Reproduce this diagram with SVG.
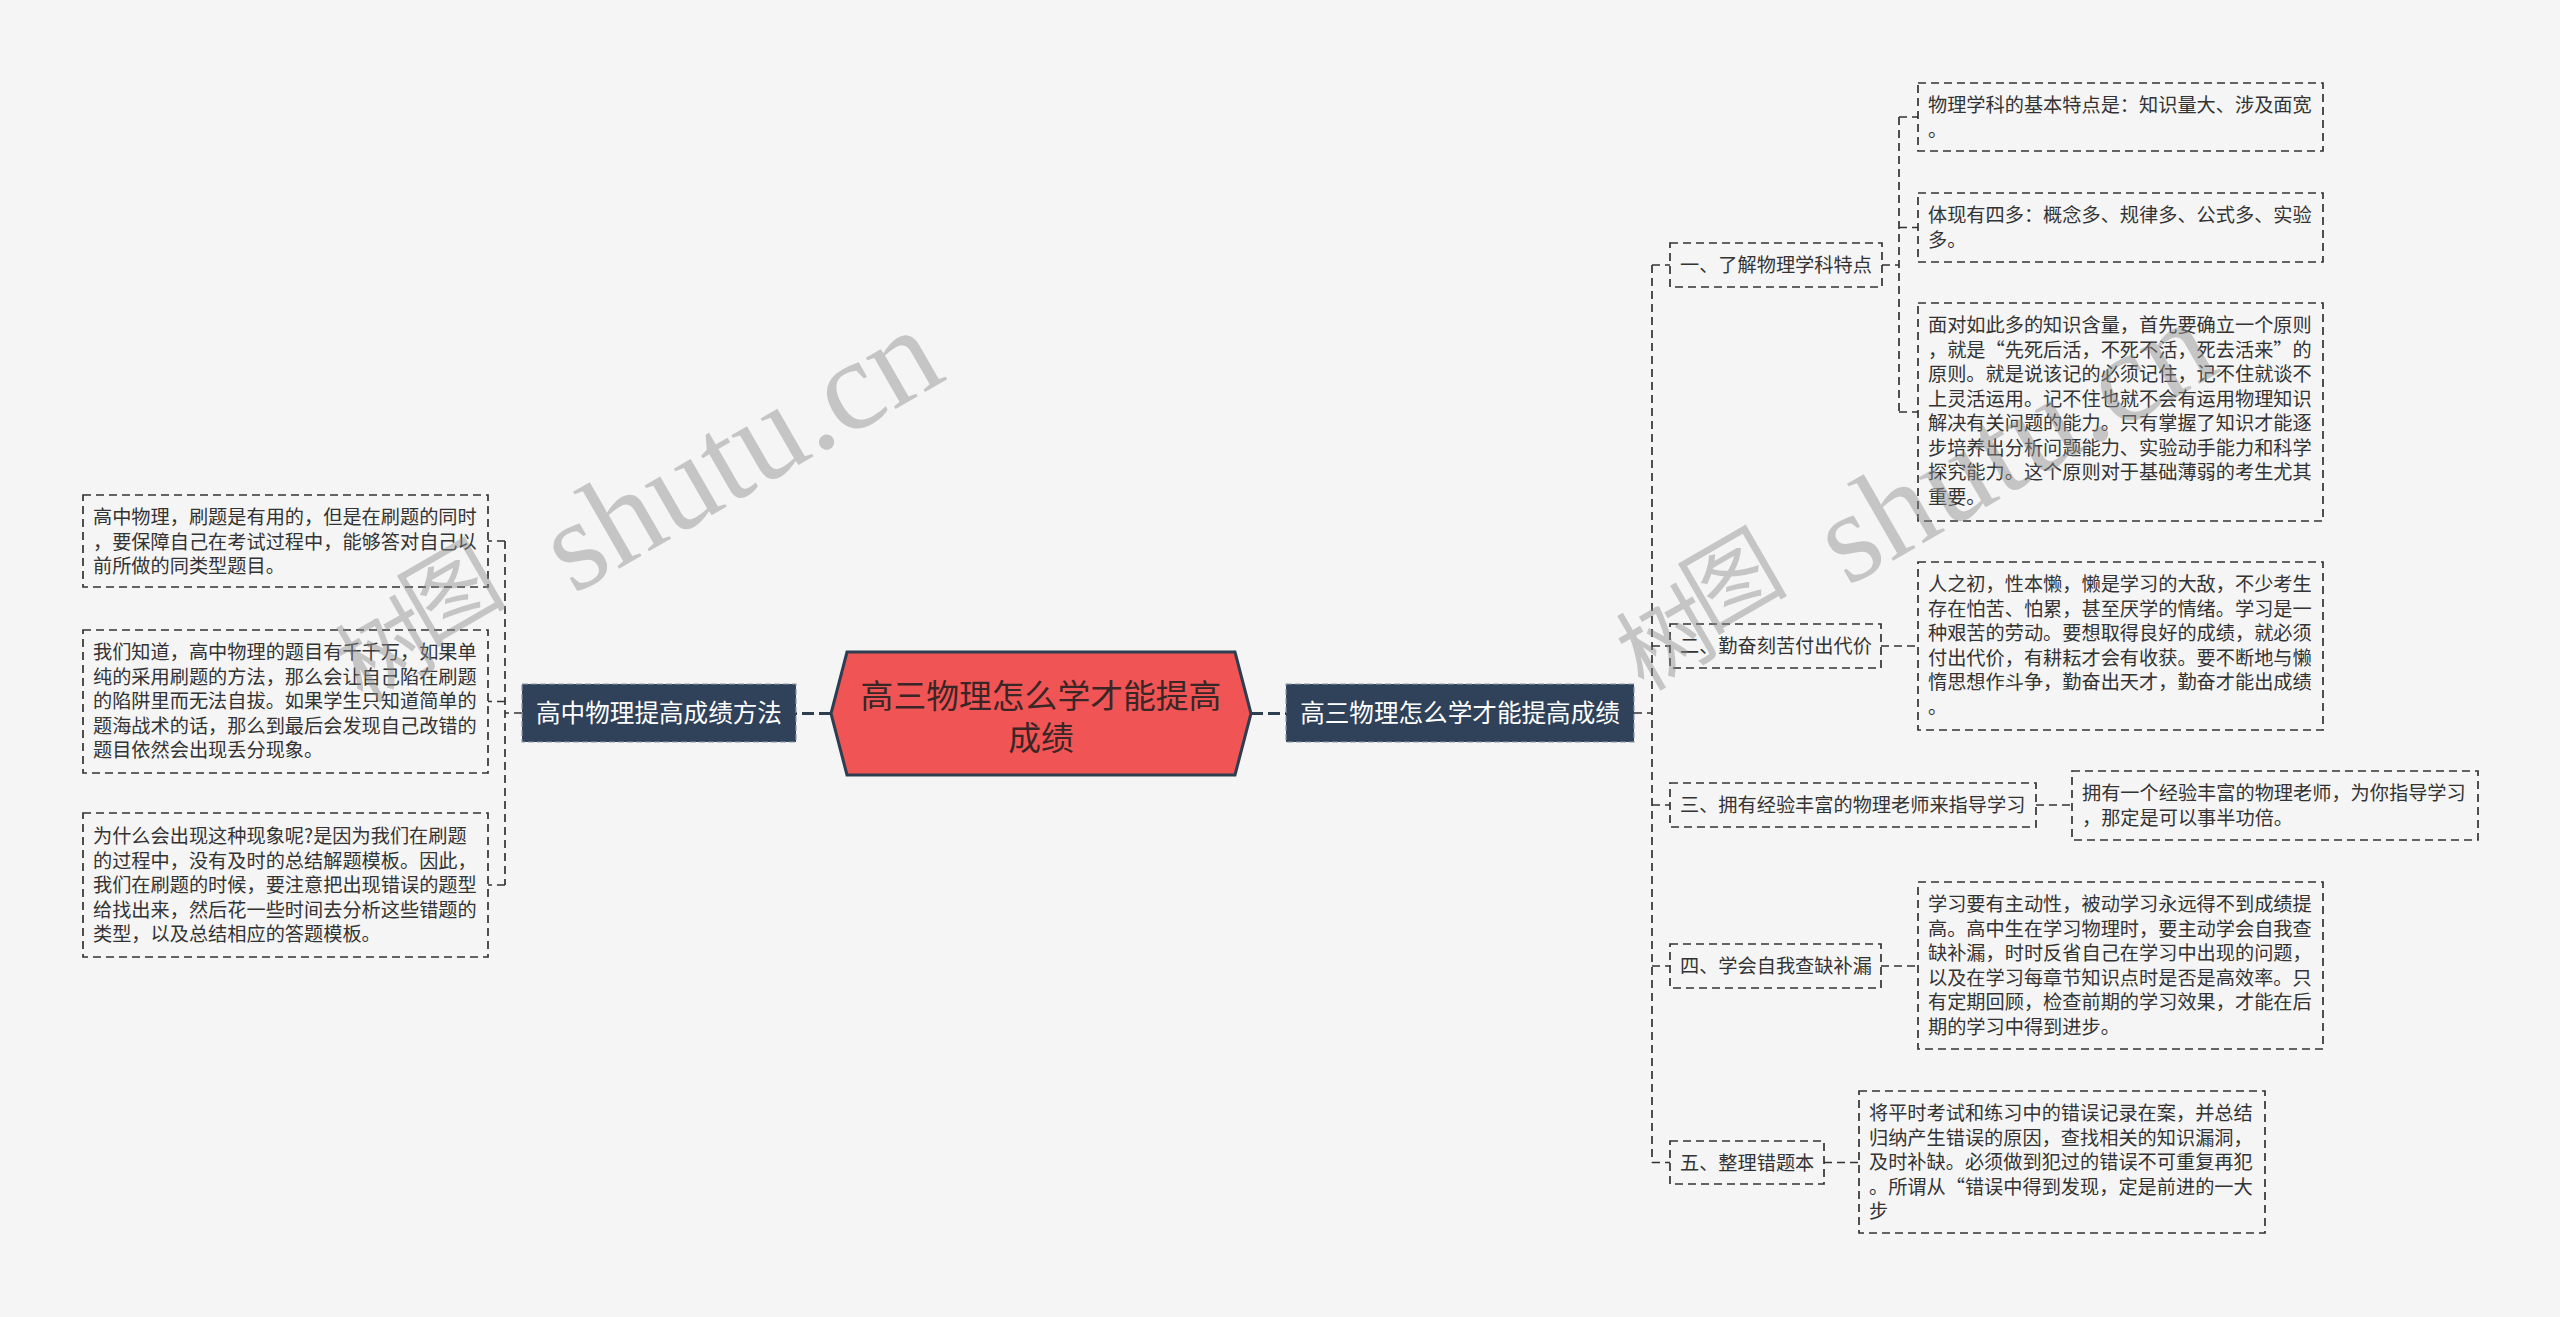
<svg xmlns="http://www.w3.org/2000/svg" width="2560" height="1317" viewBox="0 0 2560 1317">
<style>
.bg{fill:#f5f5f5}
.box{fill:none;stroke:#333;stroke-width:1.7;stroke-dasharray:8 5}
.t{font-family:"Noto Sans CJK SC","Noto Sans",sans-serif;font-size:19.2px;fill:#333}
.conn{fill:none;stroke:#333;stroke-width:1.7;stroke-dasharray:8 5}
.main{fill:none;stroke:#2d3e50;stroke-width:3;stroke-dasharray:12 5}
.dark{fill:#2f4259;stroke:#8a97a5;stroke-width:1.2;stroke-dasharray:6 3}
.dt{font-family:"Noto Sans CJK SC","Noto Sans",sans-serif;font-size:24.6px;fill:#fff;text-anchor:middle}
.ct{font-family:"Noto Sans CJK SC","Noto Sans",sans-serif;font-size:32.8px;fill:#3a2626;text-anchor:middle}
.wm{fill:#8c8c8c;fill-opacity:0.45}
.wmc{font-family:"Noto Sans CJK SC",sans-serif;font-size:94px}
.wml{font-family:"Liberation Serif",serif;font-size:129px}
</style>
<rect class="bg" x="0" y="0" width="2560" height="1317"/>

<g id="connectors">
  <path class="main" d="M831,713.5 H796"/>
  <path class="main" d="M1251,713.5 H1286"/>
  <path class="conn" d="M522,713 H505 M505,541 V885 M505,541 H488 M505,701.5 H488 M505,885 H488"/>
  <path class="conn" d="M1634,713 H1652 M1652,265 V1162.5 M1652,265 H1670 M1652,646 H1670 M1652,805 H1670 M1652,966 H1670 M1652,1162.5 H1670"/>
  <path class="conn" d="M1882,265 H1899 M1899,117 V412 M1899,117 H1918 M1899,227.5 H1918 M1899,412 H1918"/>
  <path class="conn" d="M1881,646 H1918"/>
  <path class="conn" d="M2036,805 H2072"/>
  <path class="conn" d="M1881,966 H1918"/>
  <path class="conn" d="M1824,1162.5 H1859"/>
</g>

<g id="center">
  <polygon points="847,652 1235,652 1251,713.5 1235,775 847,775 831,713.5" fill="#f05454" stroke="#2d3e50" stroke-width="3"/>
  <text class="ct" x="1041" y="707.5">高三物理怎么学才能提高</text>
  <text class="ct" x="1041" y="749.5">成绩</text>
</g>

<g id="left-main">
  <rect class="dark" x="522" y="684" width="274" height="58"/>
  <text class="dt" x="659" y="722.3">高中物理提高成绩方法</text>
</g>

<g id="right-main">
  <rect class="dark" x="1286" y="684" width="348" height="58"/>
  <text class="dt" x="1460" y="722.3">高三物理怎么学才能提高成绩</text>
</g>

<g id="left-1">
  <rect class="box" x="83" y="495" width="405" height="92"/>
  <text class="t"><tspan x="93" y="524">高中物理，刷题是有用的，但是在刷题的同时</tspan><tspan x="93" y="548.5">，要保障自己在考试过程中，能够答对自己以</tspan><tspan x="93" y="573">前所做的同类型题目。</tspan></text>
</g>
<g id="left-2">
  <rect class="box" x="83" y="630" width="405" height="143"/>
  <text class="t"><tspan x="93" y="659">我们知道，高中物理的题目有千千万，如果单</tspan><tspan x="93" y="683.5">纯的采用刷题的方法，那么会让自己陷在刷题</tspan><tspan x="93" y="708">的陷阱里而无法自拔。如果学生只知道简单的</tspan><tspan x="93" y="732.5">题海战术的话，那么到最后会发现自己改错的</tspan><tspan x="93" y="757">题目依然会出现丢分现象。</tspan></text>
</g>
<g id="left-3">
  <rect class="box" x="83" y="813" width="405" height="144"/>
  <text class="t"><tspan x="93" y="843">为什么会出现这种现象呢?是因为我们在刷题</tspan><tspan x="93" y="867.5">的过程中，没有及时的总结解题模板。因此，</tspan><tspan x="93" y="892">我们在刷题的时候，要注意把出现错误的题型</tspan><tspan x="93" y="916.5">给找出来，然后花一些时间去分析这些错题的</tspan><tspan x="93" y="941">类型，以及总结相应的答题模板。</tspan></text>
</g>

<g id="r1">
  <rect class="box" x="1670" y="243" width="212" height="44"/>
  <text class="t" x="1680" y="272">一、了解物理学科特点</text>
</g>
<g id="r1-1">
  <rect class="box" x="1918" y="83" width="405" height="68"/>
  <text class="t"><tspan x="1928" y="112">物理学科的基本特点是：知识量大、涉及面宽</tspan><tspan x="1928" y="136.5">。</tspan></text>
</g>
<g id="r1-2">
  <rect class="box" x="1918" y="193" width="405" height="69"/>
  <text class="t"><tspan x="1928" y="222">体现有四多：概念多、规律多、公式多、实验</tspan><tspan x="1928" y="246.5">多。</tspan></text>
</g>
<g id="r1-3">
  <rect class="box" x="1918" y="303" width="405" height="218"/>
  <text class="t"><tspan x="1928" y="332">面对如此多的知识含量，首先要确立一个原则</tspan><tspan x="1928" y="356.5">，就是“先死后活，不死不活，死去活来”的</tspan><tspan x="1928" y="381">原则。就是说该记的必须记住，记不住就谈不</tspan><tspan x="1928" y="405.5">上灵活运用。记不住也就不会有运用物理知识</tspan><tspan x="1928" y="430">解决有关问题的能力。只有掌握了知识才能逐</tspan><tspan x="1928" y="454.5">步培养出分析问题能力、实验动手能力和科学</tspan><tspan x="1928" y="479">探究能力。这个原则对于基础薄弱的考生尤其</tspan><tspan x="1928" y="503.5">重要。</tspan></text>
</g>

<g id="r2">
  <rect class="box" x="1670" y="624" width="211" height="44"/>
  <text class="t" x="1680" y="653">二、勤奋刻苦付出代价</text>
</g>
<g id="r2-1">
  <rect class="box" x="1918" y="562" width="405" height="168"/>
  <text class="t"><tspan x="1928" y="591">人之初，性本懒，懒是学习的大敌，不少考生</tspan><tspan x="1928" y="615.5">存在怕苦、怕累，甚至厌学的情绪。学习是一</tspan><tspan x="1928" y="640">种艰苦的劳动。要想取得良好的成绩，就必须</tspan><tspan x="1928" y="664.5">付出代价，有耕耘才会有收获。要不断地与懒</tspan><tspan x="1928" y="689">惰思想作斗争，勤奋出天才，勤奋才能出成绩</tspan><tspan x="1928" y="713.5">。</tspan></text>
</g>

<g id="r3">
  <rect class="box" x="1670" y="783" width="366" height="44"/>
  <text class="t" x="1680" y="812">三、拥有经验丰富的物理老师来指导学习</text>
</g>
<g id="r3-1">
  <rect class="box" x="2072" y="771" width="406" height="69"/>
  <text class="t"><tspan x="2082" y="800">拥有一个经验丰富的物理老师，为你指导学习</tspan><tspan x="2082" y="824.5">，那定是可以事半功倍。</tspan></text>
</g>

<g id="r4">
  <rect class="box" x="1670" y="944" width="211" height="44"/>
  <text class="t" x="1680" y="973">四、学会自我查缺补漏</text>
</g>
<g id="r4-1">
  <rect class="box" x="1918" y="882" width="405" height="167"/>
  <text class="t"><tspan x="1928" y="911">学习要有主动性，被动学习永远得不到成绩提</tspan><tspan x="1928" y="935.5">高。高中生在学习物理时，要主动学会自我查</tspan><tspan x="1928" y="960">缺补漏，时时反省自己在学习中出现的问题，</tspan><tspan x="1928" y="984.5">以及在学习每章节知识点时是否是高效率。只</tspan><tspan x="1928" y="1009">有定期回顾，检查前期的学习效果，才能在后</tspan><tspan x="1928" y="1033.5">期的学习中得到进步。</tspan></text>
</g>

<g id="r5">
  <rect class="box" x="1670" y="1141" width="154" height="43"/>
  <text class="t" x="1680" y="1169.5">五、整理错题本</text>
</g>
<g id="r5-1">
  <rect class="box" x="1859" y="1091" width="406" height="142"/>
  <text class="t"><tspan x="1869" y="1120">将平时考试和练习中的错误记录在案，并总结</tspan><tspan x="1869" y="1144.5">归纳产生错误的原因，查找相关的知识漏洞，</tspan><tspan x="1869" y="1169">及时补缺。必须做到犯过的错误不可重复再犯</tspan><tspan x="1869" y="1193.5">。所谓从“错误中得到发现，定是前进的一大</tspan><tspan x="1869" y="1218">步</tspan></text>
</g>

<g id="watermark" class="wm">
  <g transform="rotate(-30)">
    <text class="wmc" x="-38" y="791">树</text>
    <text class="wmc" x="48" y="772">图</text>
    <text class="wml" x="199" y="802">shutu.cn</text>
  </g>
  <g transform="translate(1274,-8) rotate(-30)">
    <text class="wmc" x="-30" y="791">树</text>
    <text class="wmc" x="56" y="772">图</text>
    <text class="wml" x="199" y="802">shutu.cn</text>
  </g>
</g>
</svg>
